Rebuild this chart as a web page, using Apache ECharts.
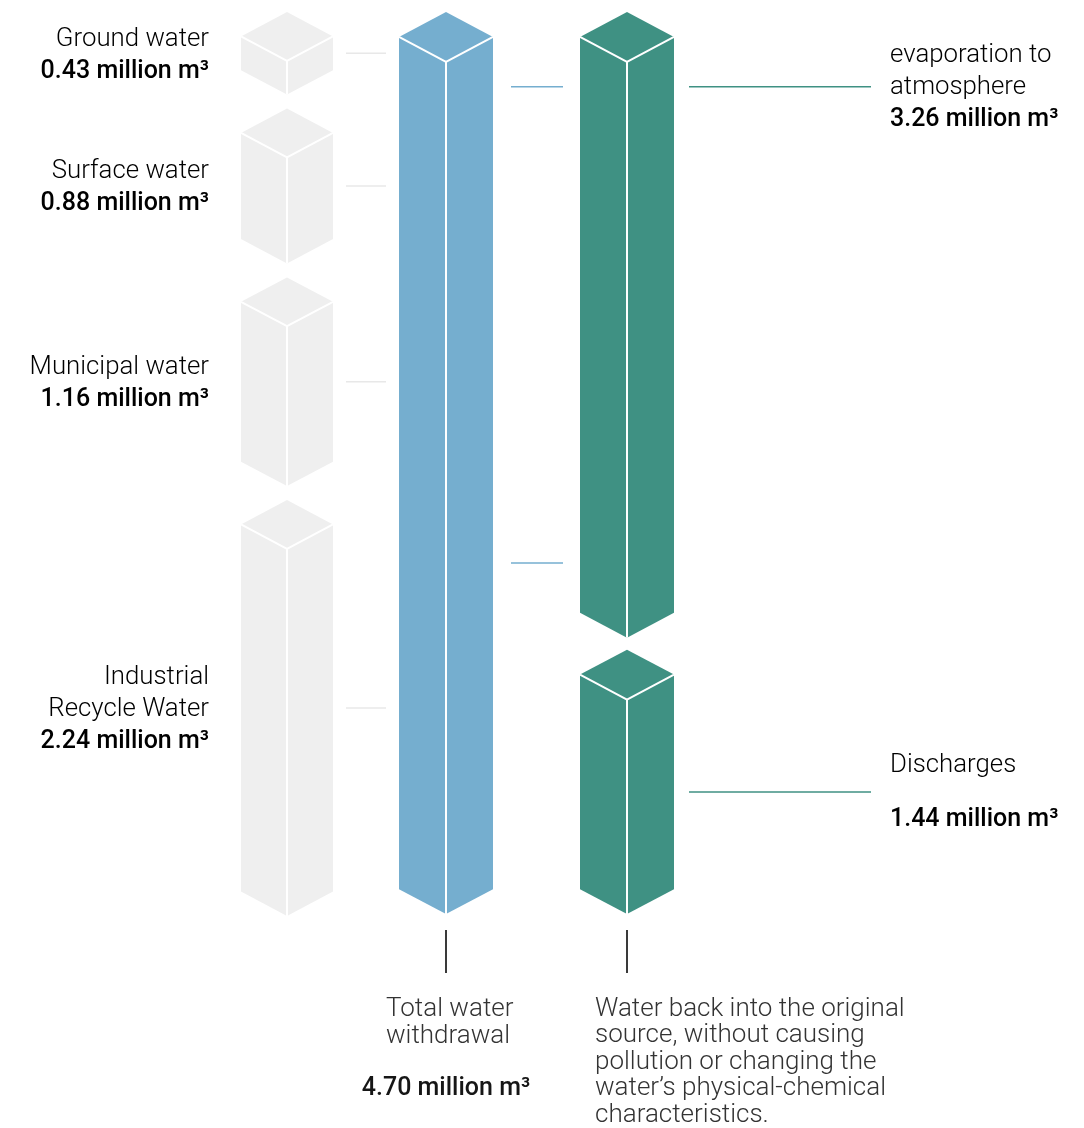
<!DOCTYPE html>
<html>
<head>
<meta charset="utf-8">
<script src="https://cdn.jsdelivr.net/npm/echarts@6/dist/echarts.min.js"></script>
<style>
html,body{margin:0;padding:0;background:#fff;}
#chart{width:1084px;height:1128px;}
</style>
</head>
<body>
<div id="chart"></div>
<script>
// ---- data ----
const sourceNames = ['Ground water', 'Surface water', 'Municipal water', 'Industrial\nRecycle Water'];
const sourceValues = [0.43, 0.88, 1.16, 2.24];
const withdrawalName = 'Total water\nwithdrawal';
const withdrawalValue = 4.70;
const returnNames = ['evaporation to\natmosphere', 'Discharges'];
const returnValues = [3.26, 1.44];
const returnNote = 'Water back into the original\nsource, without causing\npollution or changing the\nwater\u2019s physical-chemical\ncharacteristics.';
const unit = 'million m\u00b3';
const axisMax = 4.71;

// ---- styles ----
const FONT = 'Roboto';
const FS_NAME = 25.8;
const FS_VALUE = 25;
const FS_NOTE = 26;
const GREY = '#efefef', BLUE = '#75aecf', GREEN = '#3f9183';
const NAME_COLOR = '#333333', VALUE_COLOR = '#161616';

function stackRows(values) {
  let cum = 0;
  return values.map((v, i) => { const r = [0, cum, cum + v, i]; cum += v; return r; });
}
function fmt(v) { return v.toFixed(2) + ' ' + unit; }

function prism(cx, w, yTop, yBot, color) {
  const d = w * 0.53;
  return [
    { type: 'polygon', shape: { points: [[cx, yTop], [cx + w, yTop + d], [cx + w, yBot - d], [cx, yBot], [cx - w, yBot - d], [cx - w, yTop + d]] },
      style: { fill: color, stroke: null } },
    { type: 'polyline', shape: { points: [[cx - w, yTop + d], [cx, yTop + 2 * d], [cx + w, yTop + d]] },
      style: { stroke: '#ffffff', lineWidth: 2, fill: null } },
    { type: 'line', shape: { x1: cx, y1: yTop + 2 * d, x2: cx, y2: yBot },
      style: { stroke: '#ffffff', lineWidth: 2 } }
  ];
}
function hline(x1, x2, y, color) {
  return { type: 'line', shape: { x1: x1, y1: y, x2: x2, y2: y }, style: { stroke: color, lineWidth: 1.5 } };
}
const rich = {
  n: { fontFamily: FONT, fontSize: FS_NAME, fontWeight: 300, color: NAME_COLOR, lineHeight: 32 },
  v: { fontFamily: FONT, fontSize: FS_VALUE, fontWeight: 500, color: VALUE_COLOR, lineHeight: 32 },
  s: { fontFamily: FONT, fontSize: 10, lineHeight: 22 }
};

function geom(params, api, gap) {
  const start = api.value(1), end = api.value(2);
  const pTop = api.coord([0, start]);
  const pBot = api.coord([0, end]);
  const w = api.size([1, 0])[0] / 2;
  return { cx: pTop[0], w: w, yTop: pTop[1] + (start > 0 ? gap : 0), yBot: pBot[1], d: w * 0.53 };
}

const renderSource = function (params, api) {
  const g = geom(params, api, 14);
  const i = api.value(3);
  const yMid = (g.yTop + g.yBot) / 2;
  const children = prism(g.cx, g.w, g.yTop, g.yBot, GREY);
  children.push(hline(g.cx + g.w + 13, g.cx + g.w + 53, yMid, '#e8e8e8'));
  children.push({ type: 'text', style: {
    x: g.cx - g.w - 32, y: yMid + 2, align: 'right', verticalAlign: 'middle',
    text: '{n|' + sourceNames[i] + '}\n{v|' + fmt(sourceValues[i]) + '}', rich: rich } });
  return { type: 'group', children: children };
};

const renderWithdrawal = function (params, api) {
  const g = geom(params, api, 0);
  const children = prism(g.cx, g.w, g.yTop, g.yBot, BLUE);
  children.push({ type: 'line', shape: { x1: g.cx, y1: g.yBot + 16, x2: g.cx, y2: g.yBot + 59 }, style: { stroke: '#3a3a3a', lineWidth: 2 } });
  children.push({ type: 'text', style: {
    x: g.cx - 60, y: g.yBot + 82, align: 'left', verticalAlign: 'top',
    text: withdrawalName, fontFamily: FONT, fontSize: FS_NOTE, fontWeight: 300, fill: NAME_COLOR, lineHeight: 27 } });
  children.push({ type: 'text', style: {
    x: g.cx, y: g.yBot + 175, align: 'center', verticalAlign: 'middle',
    text: fmt(withdrawalValue), fontFamily: FONT, fontSize: FS_VALUE, fontWeight: 500, fill: VALUE_COLOR } });
  return { type: 'group', children: children };
};

const renderReturn = function (params, api) {
  const g = geom(params, api, 12);
  const i = api.value(3);
  const children = prism(g.cx, g.w, g.yTop, g.yBot, GREEN);
  let yLine;
  let txt;
  if (i === 0) {
    yLine = g.yTop + 3 * g.d;
    children.push(hline(g.cx - g.w - 69, g.cx - g.w - 17, yLine, BLUE));
    children.push(hline(g.cx - g.w - 69, g.cx - g.w - 17, g.yBot - 3 * g.d, BLUE));
    txt = '{n|' + returnNames[i] + '}\n{v|' + fmt(returnValues[i]) + '}';
  } else {
    yLine = (g.yTop + g.yBot) / 2 + 10;
    txt = '{n|' + returnNames[i] + '}\n{s| }\n{v|' + fmt(returnValues[i]) + '}';
    children.push({ type: 'line', shape: { x1: g.cx, y1: g.yBot + 16, x2: g.cx, y2: g.yBot + 59 }, style: { stroke: '#3a3a3a', lineWidth: 2 } });
    children.push({ type: 'text', style: {
      x: g.cx - 32, y: g.yBot + 82, align: 'left', verticalAlign: 'top',
      text: returnNote, fontFamily: FONT, fontSize: FS_NOTE, fontWeight: 300, fill: NAME_COLOR, lineHeight: 26.5 } });
  }
  children.push(hline(g.cx + g.w + 15, g.cx + g.w + 197, yLine, GREEN));
  children.push({ type: 'text', style: {
    x: g.cx + g.w + 216, y: yLine + 1, align: 'left', verticalAlign: 'middle', text: txt, rich: rich } });
  return { type: 'group', children: children };
};

const chart = echarts.init(document.getElementById('chart'), null, { renderer: 'canvas' });
const gridTop = 12, gridBottom = 212;
const grids = [
  { left: 241, width: 92, top: gridTop, bottom: gridBottom },
  { left: 399, width: 94, top: gridTop, bottom: gridBottom },
  { left: 580, width: 94, top: gridTop, bottom: gridBottom }
];
chart.setOption({
  backgroundColor: '#ffffff',
  animation: false,
  grid: grids,
  xAxis: grids.map((g, i) => ({ type: 'category', gridIndex: i, data: ['col'], show: false })),
  yAxis: grids.map((g, i) => ({ type: 'value', gridIndex: i, inverse: true, min: 0, max: axisMax, show: false })),
  series: [
    { type: 'custom', xAxisIndex: 0, yAxisIndex: 0, renderItem: renderSource, data: stackRows(sourceValues), clip: false },
    { type: 'custom', xAxisIndex: 1, yAxisIndex: 1, renderItem: renderWithdrawal, data: stackRows([withdrawalValue]), clip: false },
    { type: 'custom', xAxisIndex: 2, yAxisIndex: 2, renderItem: renderReturn, data: stackRows(returnValues), clip: false }
  ]
});
</script>
</body>
</html>
